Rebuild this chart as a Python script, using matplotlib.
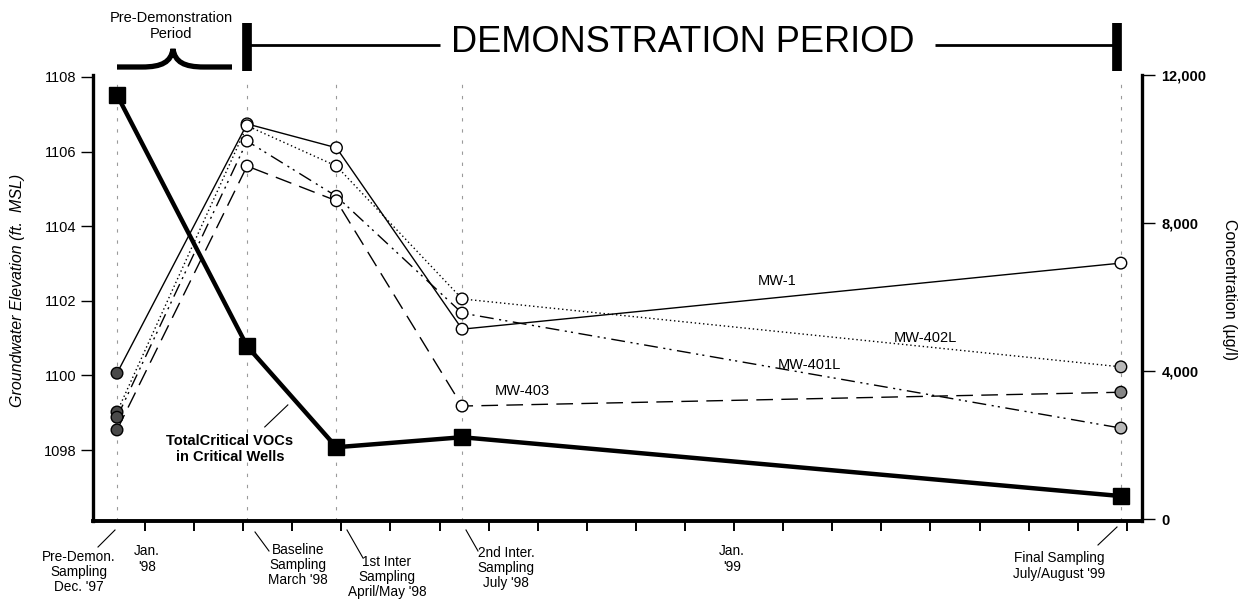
import matplotlib
matplotlib.use("Agg")
import matplotlib.pyplot as plt
from matplotlib.path import Path
from matplotlib.patches import PathPatch
from matplotlib.lines import Line2D

plt.rcParams['font.family'] = ['Liberation Sans', 'DejaVu Sans']

# months counted from Jan. 1998
sample_x = [-0.57, 2.08, 3.9, 6.46, 19.88]
voc = [11460, 4670, 1940, 2210, 620]           # ug/l, right axis
mw1 = [1100.06, 1106.74, 1106.10, 1101.24, 1103.01]
mw402l = [1099.02, 1106.69, 1105.61, 1102.05, 1100.23]
mw401l = [1098.88, 1106.28, 1104.80, 1101.67, 1098.59]
mw403 = [1098.54, 1105.61, 1104.68, 1099.18, 1099.55]
month_ticks = list(range(0, 21))
left_ticks = [1098, 1100, 1102, 1104, 1106, 1108]
right_ticks = [0, 4000, 8000, 12000]

W, H = 1248, 601
fig = plt.figure(figsize=(W / 100, H / 100), dpi=100)

def P(x, y):
    return (x / W, 1 - y / H)

ax = fig.add_axes([93 / W, 1 - 521 / H, (1142 - 93) / W, (521 - 75) / H])
ax2 = ax.twinx()

ax.set_xlim(-1.059, 20.31)
ax.set_ylim(1096.10, 1108.05)
ax2.set_ylim(-54, 11973)

# sampling event guide lines
for sx in sample_x:
    ax.axvline(sx, ymin=0, ymax=0.995, color='#9a9a9a', lw=0.8, ls=(0, (3, 7)), zorder=0)

wells = [
    ("MW-1", mw1, '-', '#ffffff'),
    ("MW-402L", mw402l, (0, (1, 2)), '#b8b8b8'),
    ("MW-401L", mw401l, (0, (10, 4, 1.5, 3, 1.5, 4)), '#b8b8b8'),
    ("MW-403", mw403, (0, (12, 6)), '#858585'),
]
for name, vals, ls, last_fc in wells:
    ax.plot(sample_x, vals, color='black', lw=1.0, ls=ls, zorder=2)
    fc = ['#4a4a4a', 'white', 'white', 'white', last_fc]
    ax.scatter(sample_x, vals, s=70, facecolors=fc, edgecolors='black', linewidths=1.0, zorder=3)

ax2.plot(sample_x, voc, color='black', lw=3.2, marker='s', ms=12, mfc='black', mec='black', zorder=4)

# well labels
ax.text(12.87, 1102.53, "MW-1", fontsize=10.5, ha='center', va='center')
ax.text(15.90, 1101.0, "MW-402L", fontsize=10.5, ha='center', va='center')
ax.text(13.54, 1100.27, "MW-401L", fontsize=10.5, ha='center', va='center')
ax.text(7.68, 1099.57, "MW-403", fontsize=10.5, ha='center', va='center')
ax.text(1.73, 1098.03, "TotalCritical VOCs\nin Critical Wells", fontsize=10.5, fontweight='bold',
        ha='center', va='center', linespacing=1.2)
ax.plot([2.44, 2.91], [1098.62, 1099.21], color='black', lw=0.8)

# axes styling
for a in (ax, ax2):
    a.spines['top'].set_visible(False)
ax.spines['left'].set_linewidth(2.4)
ax.spines['bottom'].set_linewidth(2.8)
ax.spines['right'].set_visible(False)
ax2.spines['left'].set_visible(False)
ax2.spines['bottom'].set_visible(False)
ax2.spines['right'].set_linewidth(2.4)

ax.set_yticks(left_ticks)
ax.set_yticklabels([str(t) for t in left_ticks], fontsize=10.5)
ax.tick_params(axis='y', direction='out', length=9, width=1.0, pad=3)
ax.set_xticks(month_ticks)
ax.set_xticklabels([])
ax.tick_params(axis='x', direction='out', length=7, width=1.4)

ax2.set_yticks(right_ticks)
ax2.set_yticklabels([f"{t:,}" for t in right_ticks], fontsize=10.5, fontweight='bold')
ax2.tick_params(axis='y', direction='out', length=9, width=1.0, pad=5)

fig.text(*P(18, 290), "Groundwater Elevation (ft.  MSL)", rotation=90, fontsize=11.5,
         style='italic', ha='center', va='center')
fig.text(*P(1229, 290), "Concentration (\u00b5g/l)", rotation=270, fontsize=11.5,
         ha='center', va='center')

# bottom labels with leader lines
bottom_labels = [
    ("Pre-Demon.\nSampling\nDec. '97", 79, 572, [(115, 530), (98, 547)]),
    ("Jan.\n'98", 147, 559, None),
    ("Baseline\nSampling\nMarch '98", 298, 565, [(255, 532), (269, 551)]),
    ("1st Inter\nSampling\nApril/May '98", 387, 577, [(347, 530), (363, 558)]),
    ("2nd Inter.\nSampling\nJuly '98", 506, 568, [(466, 530), (478, 551)]),
    ("Jan.\n'99", 732, 559, None),
    ("Final Sampling\nJuly/August '99", 1059, 566, [(1117, 527), (1098, 545)]),
]
for txt, x, y, lead in bottom_labels:
    fig.text(*P(x, y), txt, fontsize=9.8, ha='center', va='center', linespacing=1.1)
    if lead:
        (x0, y0), (x1, y1) = lead
        fig.add_artist(Line2D([x0 / W, x1 / W], [1 - y0 / H, 1 - y1 / H],
                              color='black', lw=0.8, transform=fig.transFigure))

# pre-demonstration brace
fig.text(*P(171, 26), "Pre-Demonstration\nPeriod", fontsize=10.5, ha='center', va='center',
         linespacing=1.15)
verts = [P(117, 67), P(142, 67), P(162, 67), P(171, 62), P(173, 49),
         P(175, 62), P(184, 67), P(204, 67), P(232, 67)]
codes = [Path.MOVETO, Path.LINETO, Path.CURVE4, Path.CURVE4, Path.CURVE4,
         Path.CURVE4, Path.CURVE4, Path.CURVE4, Path.LINETO]
fig.add_artist(PathPatch(Path(verts, codes), fill=False, lw=3.8, ec='black',
                         transform=fig.transFigure, capstyle='butt'))

# demonstration period bar
def fline(xs, ys, lw):
    fig.add_artist(Line2D([x / W for x in xs], [1 - y / H for y in ys], color='black',
                          lw=lw, transform=fig.transFigure, solid_capstyle='butt'))

fline([247, 247], [23, 71], 7)
fline([1117, 1117], [23, 71], 7)
fline([247, 440], [45, 45], 2)
fline([935, 1117], [45, 45], 2)
fig.text(*P(683, 43), "DEMONSTRATION PERIOD", fontsize=26, ha='center', va='center')

fig.savefig("out.png", dpi=100)
